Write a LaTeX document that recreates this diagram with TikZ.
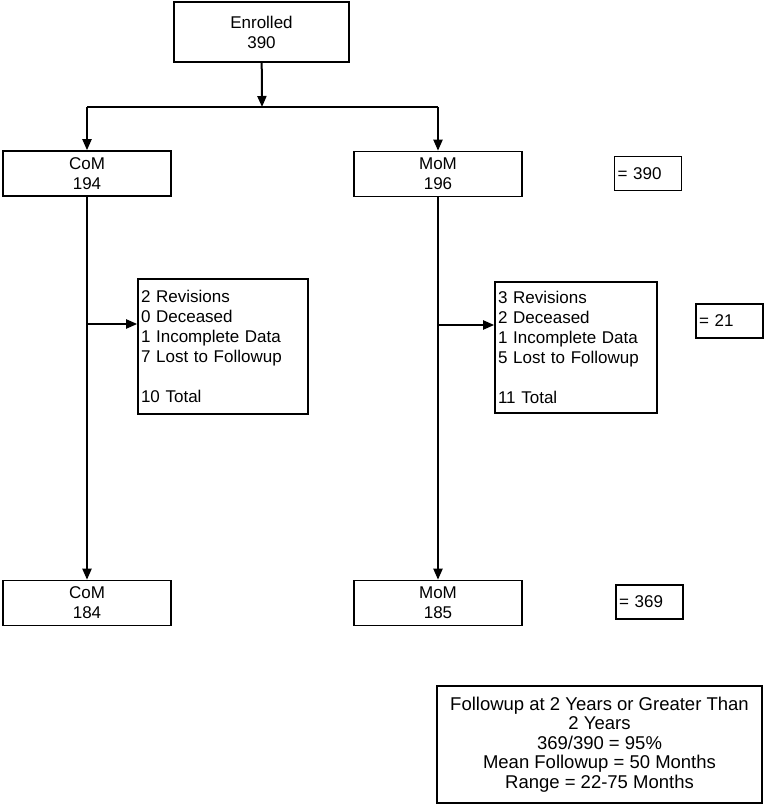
\documentclass[tikz,border=0pt]{standalone}
\usepackage{fontspec}
\setmainfont{Liberation Sans}
\usetikzlibrary{arrows.meta, positioning, calc}

\begin{document}
\begin{tikzpicture}[
    x=1pt, y=-1pt,
    font=\fontsize{17}{20}\selectfont,
    grpbox/.style={draw, line width=1.6pt, minimum width=168pt, minimum height=45pt,
                   align=center, inner sep=0pt},
    sumbox/.style={draw, line width=1.6pt, minimum height=34pt, text width=61pt,
                   align=left, inner sep=3pt},
    lossbox/.style={draw, line width=1.6pt, align=left, inner xsep=3pt},
    arr/.style={-{Triangle[length=11pt,width=9pt]}, line width=2pt},
    link/.style={line width=2pt}
]
\useasboundingbox (0,0) rectangle (765,805);
% Enrolment
\node[grpbox, minimum width=175pt, minimum height=60pt] (enrolled) at (261.5,32) {Enrolled\\390};
% Groups at start
\node[grpbox] (com) at (87,173.5) {CoM\\194};
\node[grpbox] (mom) at (438,174) {MoM\\196};
\node[sumbox] (sumstart) at (648,173.5) {= 390};
% Losses
\node[lossbox, text width=164pt, minimum height=135pt] (lossC) at (223,346.5)
    {2 Revisions\\0 Deceased\\1 Incomplete Data\\7 Lost to Followup\\[20pt]10 Total};
\node[lossbox, text width=156pt, minimum height=131pt] (lossM) at (576,347.5)
    {3 Revisions\\2 Deceased\\1 Incomplete Data\\5 Lost to Followup\\[20pt]11 Total};
\node[sumbox] (sumloss) at (729.5,321) {= 21};
% Groups at followup
\node[grpbox] (comend) at (87,603) {CoM\\184};
\node[grpbox] (momend) at (438,603) {MoM\\185};
\node[sumbox] (sumend) at (649.5,602) {= 369};
% Summary
\node[grpbox, minimum width=325pt, minimum height=117pt, font=\fontsize{18.5}{19.5}\selectfont] (summary) at (599.5,744.5)
    {Followup at 2 Years or Greater Than\\2 Years\\369/390 = 95\%\\Mean Followup = 50 Months\\Range = 22-75 Months};

\coordinate (split) at (262,107);
\coordinate (splitL) at (com.north |- split);
\coordinate (splitR) at (mom.north |- split);
\coordinate (brC) at (com.south |- 0,324);
\coordinate (brM) at (mom.south |- 0,325);

\draw[arr] (enrolled) -- (split);
\draw[link] (splitL) -- (splitR);
\draw[arr] (splitL) -- (com);
\draw[arr] (splitR) -- (mom);
\draw[arr] (com) -- (comend);
\draw[arr] (mom) -- (momend);
\draw[arr] (brC) -- (brC -| lossC.west);
\draw[arr] (brM) -- (brM -| lossM.west);
\end{tikzpicture}
\end{document}
